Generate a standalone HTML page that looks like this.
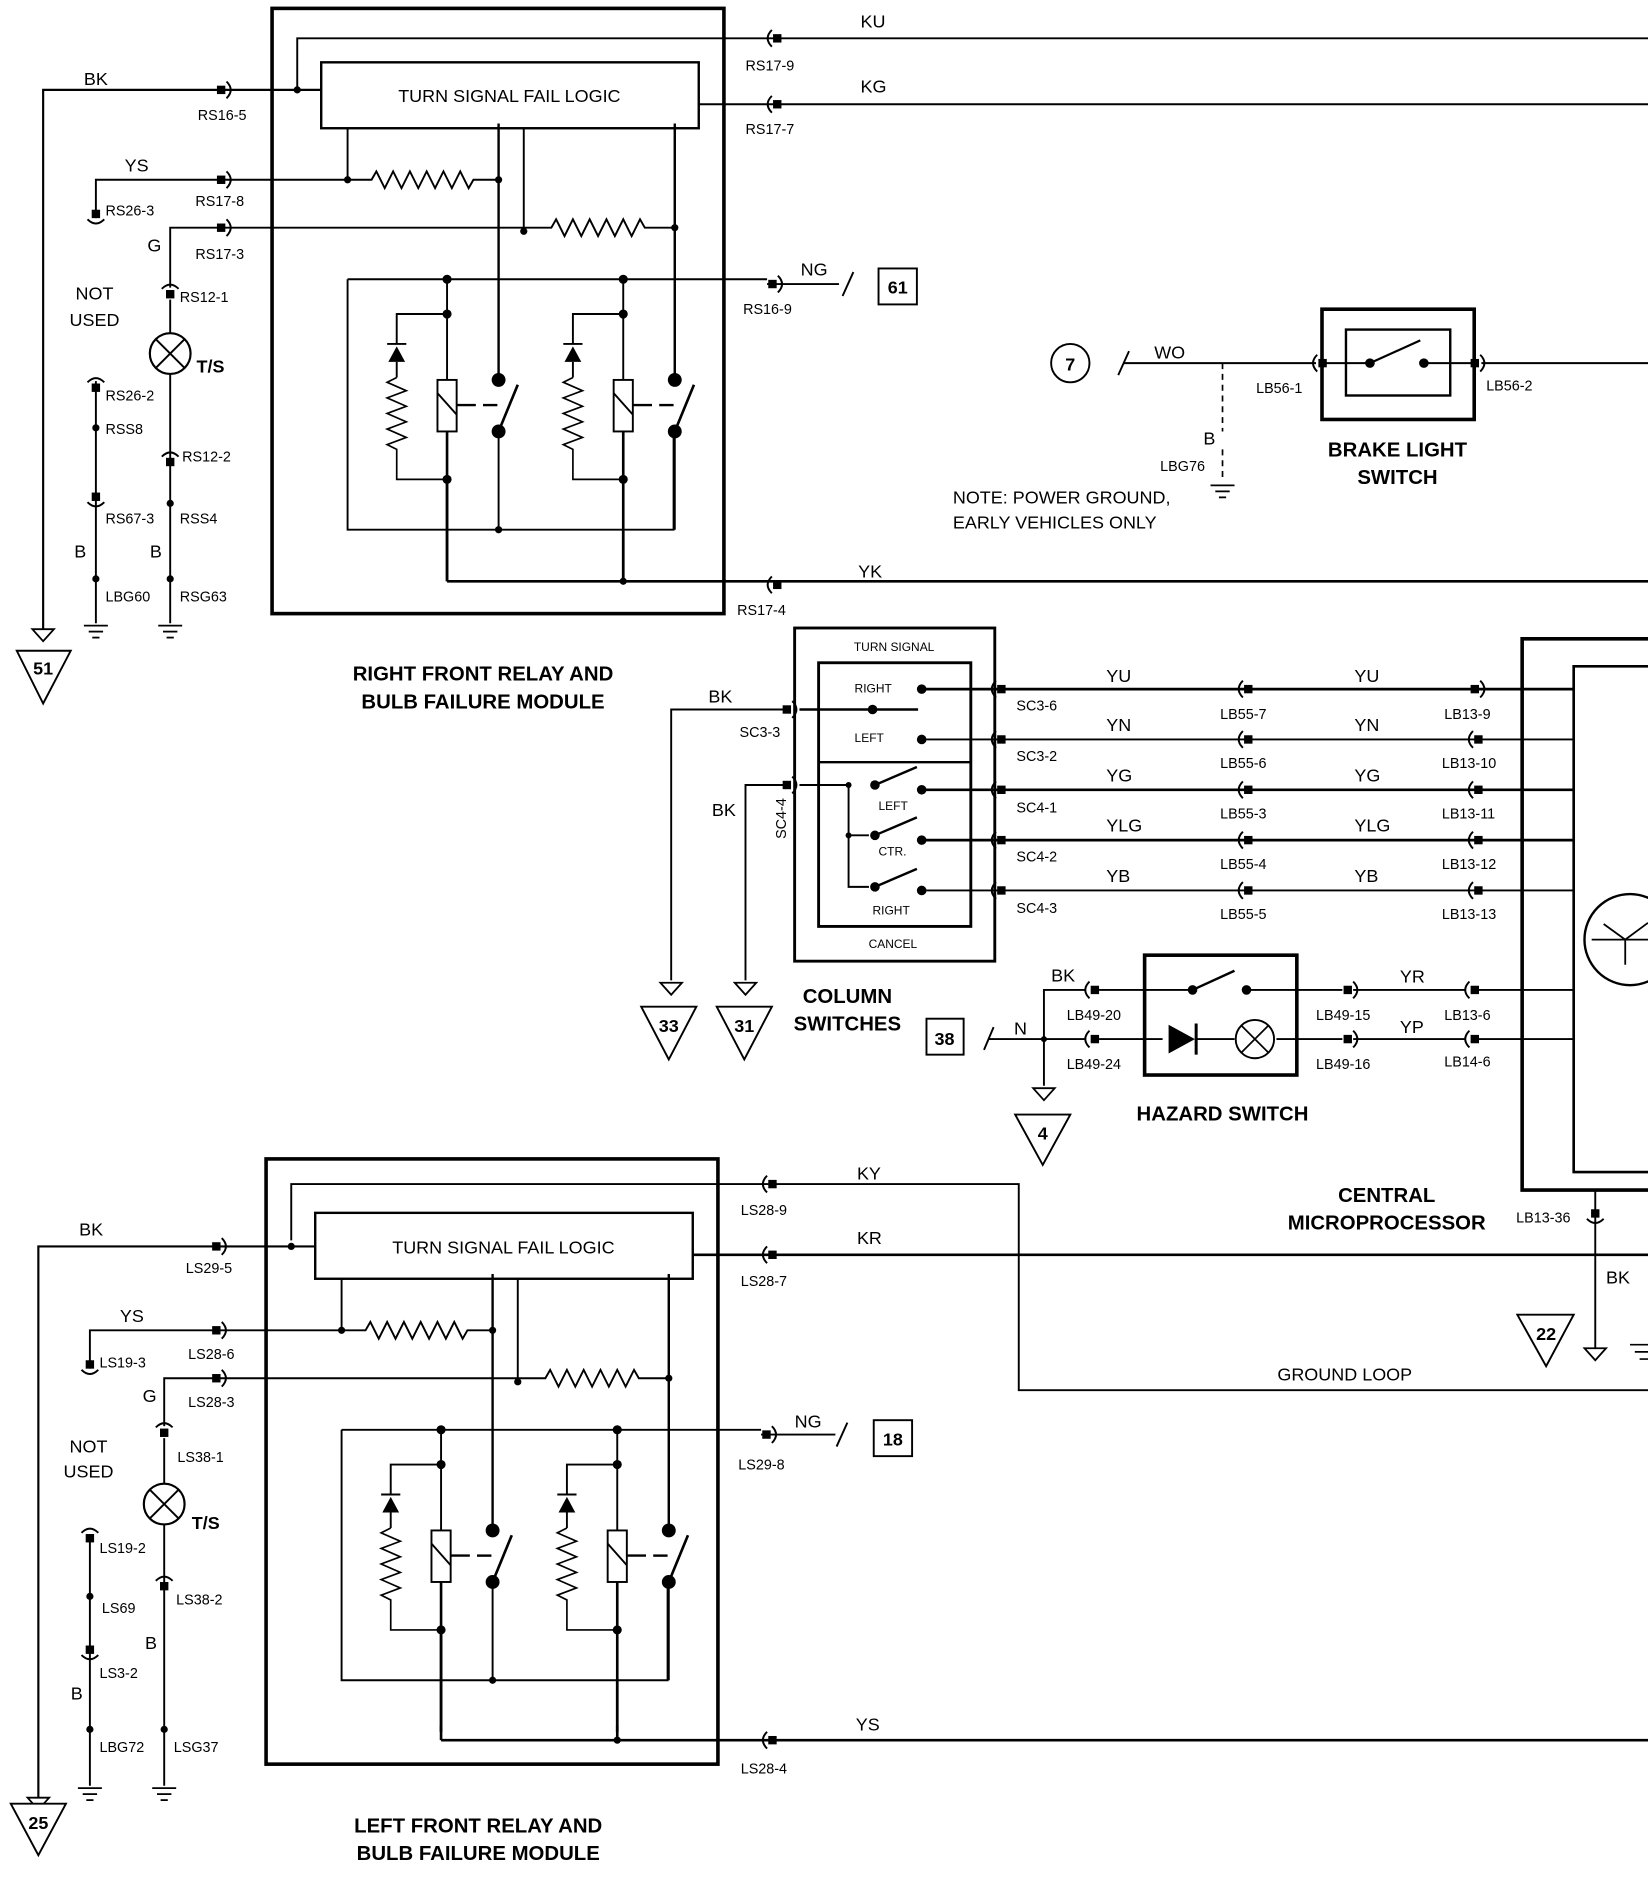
<!DOCTYPE html>
<html><head><meta charset="utf-8"><style>
html,body{margin:0;padding:0;background:#fff;}
svg{display:block;}
text{font-family:"Liberation Sans",Arial,sans-serif;fill:#000;}
.s{font-size:12px;}
.m{font-size:15px;}
.b{font-size:17px;font-weight:bold;}
</style></head><body>
<svg width="1648" height="1878" viewBox="0 0 1375 1567" preserveAspectRatio="none" xmlns="http://www.w3.org/2000/svg">
<defs>
<g id="cr"><rect x="-9" y="-3.5" width="7" height="7" fill="#000"/><path d="M-1,-7 Q6,0 -1,7" fill="none" stroke="#000" stroke-width="1.6"/></g>
<g id="cl"><rect x="2" y="-3.5" width="7" height="7" fill="#000"/><path d="M1,-7 Q-6,0 1,7" fill="none" stroke="#000" stroke-width="1.6"/></g>
<g id="gnd" stroke="#000" stroke-width="1.5"><line x1="-10" y1="0" x2="10" y2="0"/><line x1="-6" y1="5" x2="6" y2="5"/><line x1="-3" y1="10" x2="3" y2="10"/></g>
<g id="arr"><path d="M-9,0 L9,0 L0,10 Z" fill="#fff" stroke="#000" stroke-width="1.5"/></g>
<g id="lamp"><circle r="17" fill="#fff" stroke="#000" stroke-width="1.8"/><line x1="-12" y1="-12" x2="12" y2="12" stroke="#000" stroke-width="1.6"/><line x1="12" y1="-12" x2="-12" y2="12" stroke="#000" stroke-width="1.6"/></g>
<g id="relay" fill="none" stroke="#000" stroke-width="1.6">
 <line x1="0" y1="0" x2="0" y2="84"/>
 <line x1="0" y1="127" x2="0" y2="252" stroke-width="2.2"/>
 <path d="M0,29 H-42 V54"/>
 <path d="M-50,54 L-34,54" /><path d="M-49,69 L-35,69 L-42,56 Z" fill="#000" stroke="none"/>
 <line x1="-42" y1="69" x2="-42" y2="82"/>
 <path d="M-42,82 L-50,86 L-34,93 L-50,99 L-34,106 L-50,112 L-34,119 L-50,125 L-34,132 L-50,138 L-42,142 V167 H0" stroke-width="1.4"/>
 <rect x="-8" y="84" width="16" height="43" fill="#fff"/>
 <line x1="-8" y1="95" x2="8" y2="113"/>
 <line x1="8" y1="105" x2="24" y2="105" stroke-width="2"/><line x1="30" y1="105" x2="42" y2="105" stroke-width="2"/>
 <circle cx="43" cy="84" r="5" fill="#000"/><circle cx="43" cy="127" r="5" fill="#000"/>
 <line x1="43" y1="127" x2="59" y2="88" stroke-width="2.2"/>
 <line x1="43" y1="-130" x2="43" y2="84" stroke-width="2"/>
 <line x1="43" y1="127" x2="43" y2="209"/>
 <circle cx="0" cy="0" r="3" fill="#000"/><circle cx="0" cy="29" r="3" fill="#000"/><circle cx="0" cy="167" r="3" fill="#000"/>
</g>
<g id="mod">
 <rect x="227" y="7" width="377" height="505" fill="none" stroke="#000" stroke-width="3"/>
 <rect x="268" y="52" width="315" height="55" fill="none" stroke="#000" stroke-width="2"/>
 <g fill="none" stroke="#000" stroke-width="1.6">
  <polyline points="290,107 290,150"/>
  <line x1="437" y1="107" x2="437" y2="193"/>
  <line x1="563" y1="107" x2="563" y2="317"/>
  <path d="M185,150 H310 L314,143 L321,157 L328,143 L335,157 L342,143 L349,157 L356,143 L363,157 L370,143 L377,157 L384,143 L391,157 L395,150 H416"/>
  <path d="M185,190 H460 L464,183 L471,197 L478,183 L485,197 L492,183 L499,197 L506,183 L513,197 L520,183 L527,197 L534,183 L538,190 H563"/>
  <path d="M290,233 H640"/>
  <path d="M290,233 V442 H562 V360"/>
  <line x1="373" y1="400" x2="373" y2="485" stroke-width="2.2"/>
  <line x1="520" y1="442" x2="520" y2="485" stroke-width="2.2"/>
 </g>
 <circle cx="290" cy="150" r="3"/><circle cx="416" cy="150" r="3"/><circle cx="437" cy="193" r="3"/><circle cx="563" cy="190" r="3"/>
 <circle cx="416" cy="442" r="3"/>
 <use href="#relay" transform="translate(373,233)"/>
 <use href="#relay" transform="translate(520,233)"/>
</g>
</defs>
<rect width="1375" height="1567" fill="#fff"/>

<!-- ===== TOP MODULE ===== -->
<use href="#mod"/>
<circle cx="520" cy="485" r="3"/>
<g fill="none" stroke="#000" stroke-width="1.6">
 <path d="M248,75 V32 H1375"/>
 <path d="M36,525 V75 H268" stroke-width="1.8"/>
 <line x1="583" y1="87" x2="1375" y2="87" stroke-width="1.6"/>
 <path d="M80,182 V150 H185"/>
 <path d="M142,240 V190 H185"/>
 <line x1="142" y1="250" x2="142" y2="520"/>
 <line x1="80" y1="318" x2="80" y2="520"/>
 <line x1="373" y1="485" x2="1375" y2="485" stroke-width="2.2"/>
 <line x1="640" y1="237" x2="700" y2="237"/>
 <line x1="703" y1="247" x2="712" y2="227"/>
</g>
<circle cx="248" cy="75" r="3"/><circle cx="80" cy="357" r="3"/><circle cx="80" cy="483" r="3"/><circle cx="142" cy="420" r="3"/><circle cx="142" cy="483" r="3"/>
<use href="#cr" transform="translate(190,75)"/>
<use href="#cr" transform="translate(190,150)"/>
<use href="#cr" transform="translate(190,190)"/>
<use href="#cl" transform="translate(643,32)"/>
<use href="#cl" transform="translate(643,87)"/>
<use href="#cr" transform="translate(650,237)"/>
<use href="#cl" transform="translate(643,488)"/>
<use href="#cr" transform="translate(80,184) rotate(90)"/>
<use href="#cr" transform="translate(142,240) rotate(-90)"/>
<use href="#cr" transform="translate(80,318) rotate(-90)"/>
<use href="#cr" transform="translate(80,420) rotate(90)"/>
<use href="#cr" transform="translate(142,380) rotate(-90)"/>
<use href="#lamp" transform="translate(142,295)"/>
<use href="#gnd" transform="translate(80,522)"/><use href="#gnd" transform="translate(142,522)"/>
<use href="#arr" transform="translate(36,525)"/>
<path d="M14,543 L59,543 L36,587 Z" fill="#fff" stroke="#000" stroke-width="1.6"/><text x="36" y="563" class="m" text-anchor="middle" font-weight="bold">51</text>
<rect x="733" y="224" width="32" height="30" fill="none" stroke="#000" stroke-width="1.6"/><text x="749" y="245" class="m" text-anchor="middle" font-weight="bold">61</text>
<text x="425" y="85" class="m" text-anchor="middle">TURN SIGNAL FAIL LOGIC</text>
<text x="70" y="71" class="m">BK</text><text x="165" y="100" class="s">RS16-5</text>
<text x="104" y="143" class="m">YS</text><text x="163" y="172" class="s">RS17-8</text>
<text x="88" y="180" class="s">RS26-3</text>
<text x="123" y="210" class="m">G</text><text x="163" y="216" class="s">RS17-3</text>
<text x="150" y="252" class="s">RS12-1</text>
<text x="63" y="250" class="m">NOT</text><text x="58" y="272" class="m">USED</text>
<text x="164" y="311" class="m" font-weight="bold">T/S</text>
<text x="88" y="334" class="s">RS26-2</text><text x="88" y="362" class="s">RSS8</text>
<text x="152" y="385" class="s">RS12-2</text>
<text x="88" y="437" class="s">RS67-3</text><text x="150" y="437" class="s">RSS4</text>
<text x="62" y="465" class="m">B</text><text x="125" y="465" class="m">B</text>
<text x="88" y="502" class="s">LBG60</text><text x="150" y="502" class="s">RSG63</text>
<text x="622" y="59" class="s">RS17-9</text><text x="718" y="23" class="m">KU</text>
<text x="622" y="112" class="s">RS17-7</text><text x="718" y="77" class="m">KG</text>
<text x="620" y="262" class="s">RS16-9</text><text x="668" y="230" class="m">NG</text>
<text x="615" y="513" class="s">RS17-4</text><text x="716" y="482" class="m">YK</text>
<text x="403" y="568" class="b" text-anchor="middle">RIGHT FRONT RELAY AND</text>
<text x="403" y="591" class="b" text-anchor="middle">BULB FAILURE MODULE</text>

<!-- ===== BRAKE LIGHT SWITCH ===== -->
<circle cx="893" cy="303" r="16" fill="none" stroke="#000" stroke-width="1.6"/><text x="893" y="309" class="m" text-anchor="middle" font-weight="bold">7</text>
<line x1="933" y1="313" x2="942" y2="293" stroke="#000" stroke-width="1.6"/>
<line x1="937" y1="303" x2="1098" y2="303" stroke="#000" stroke-width="1.6"/>
<line x1="1020" y1="303" x2="1020" y2="360" stroke="#000" stroke-width="1.4" stroke-dasharray="5 4"/>
<line x1="1020" y1="375" x2="1020" y2="398" stroke="#000" stroke-width="1.4" stroke-dasharray="5 4"/>
<use href="#gnd" transform="translate(1020,405)"/>
<use href="#cl" transform="translate(1098,303)"/>
<rect x="1103" y="258" width="127" height="92" fill="none" stroke="#000" stroke-width="3"/>
<rect x="1123" y="275" width="87" height="55" fill="none" stroke="#000" stroke-width="2"/>
<line x1="1105" y1="303" x2="1143" y2="303" stroke="#000" stroke-width="1.6"/>
<line x1="1188" y1="303" x2="1228" y2="303" stroke="#000" stroke-width="1.6"/>
<circle cx="1143" cy="303" r="4"/><circle cx="1188" cy="303" r="4"/>
<line x1="1143" y1="303" x2="1185" y2="284" stroke="#000" stroke-width="1.8"/>
<use href="#cr" transform="translate(1236,303)"/>
<line x1="1236" y1="303" x2="1375" y2="303" stroke="#000" stroke-width="1.6"/>
<text x="963" y="299" class="m">WO</text><text x="1048" y="328" class="s">LB56-1</text><text x="1240" y="326" class="s">LB56-2</text>
<text x="1004" y="371" class="m">B</text><text x="968" y="393" class="s">LBG76</text>
<text x="795" y="420" class="m">NOTE: POWER GROUND,</text><text x="795" y="441" class="m">EARLY VEHICLES ONLY</text>
<text x="1166" y="381" class="b" text-anchor="middle">BRAKE LIGHT</text><text x="1166" y="404" class="b" text-anchor="middle">SWITCH</text>

<!-- ===== COLUMN SWITCHES ===== -->
<rect x="663" y="524" width="167" height="278" fill="none" stroke="#000" stroke-width="2.4"/>
<rect x="683" y="553" width="127" height="220" fill="none" stroke="#000" stroke-width="2.4"/>
<line x1="683" y1="636" x2="810" y2="636" stroke="#000" stroke-width="2"/>
<text x="746" y="543" font-size="10" text-anchor="middle">TURN SIGNAL</text>
<text x="713" y="578" font-size="10">RIGHT</text><text x="713" y="619" font-size="10">LEFT</text>
<text x="733" y="676" font-size="10">LEFT</text><text x="733" y="714" font-size="10">CTR.</text>
<text x="728" y="763" font-size="10">RIGHT</text><text x="745" y="791" font-size="10" text-anchor="middle">CANCEL</text>
<g stroke="#000" stroke-width="1.6" fill="none">
 <path d="M560,818 V592 H655"/>
 <path d="M622,818 V655 H655"/>
 <line x1="667" y1="592" x2="766" y2="592" stroke-width="2"/>
 <line x1="667" y1="655" x2="708" y2="655"/>
 <path d="M708,655 V740 H725"/><line x1="708" y1="697" x2="725" y2="697"/>
 <line x1="730" y1="655" x2="765" y2="640" stroke-width="2"/>
 <line x1="730" y1="697" x2="765" y2="682" stroke-width="2"/>
 <line x1="730" y1="740" x2="765" y2="725" stroke-width="2"/>
</g>
<use href="#cr" transform="translate(662,592)"/><use href="#cr" transform="translate(662,655)"/>
<circle cx="708" cy="655" r="2.5"/><circle cx="708" cy="697" r="2.5"/>
<circle cx="728" cy="592" r="4"/><circle cx="730" cy="655" r="4"/><circle cx="730" cy="697" r="4"/><circle cx="730" cy="740" r="4"/>
<circle cx="769" cy="575" r="4"/><circle cx="769" cy="617" r="4"/><circle cx="769" cy="659" r="4"/><circle cx="769" cy="701" r="4"/><circle cx="769" cy="743" r="4"/>
<g stroke="#000" stroke-width="1.6">
 <line x1="769" y1="575" x2="1313" y2="575" stroke-width="2.2"/>
 <line x1="769" y1="617" x2="1313" y2="617"/>
 <line x1="769" y1="659" x2="1313" y2="659" stroke-width="2.2"/>
 <line x1="769" y1="701" x2="1313" y2="701" stroke-width="2.2"/>
 <line x1="769" y1="743" x2="1313" y2="743"/>
</g>
<g>
 <use href="#cl" transform="translate(830,575)"/><use href="#cl" transform="translate(830,617)"/><use href="#cl" transform="translate(830,659)"/><use href="#cl" transform="translate(830,701)"/><use href="#cl" transform="translate(830,743)"/>
 <use href="#cl" transform="translate(1036,575)"/><use href="#cl" transform="translate(1036,617)"/><use href="#cl" transform="translate(1036,659)"/><use href="#cl" transform="translate(1036,701)"/><use href="#cl" transform="translate(1036,743)"/>
 <use href="#cr" transform="translate(1236,575)"/><use href="#cl" transform="translate(1228,617)"/><use href="#cl" transform="translate(1228,659)"/><use href="#cl" transform="translate(1228,701)"/><use href="#cl" transform="translate(1228,743)"/>
</g>
<text x="591" y="586" class="m">BK</text><text x="617" y="615" class="s">SC3-3</text>
<text x="594" y="681" class="m">BK</text>
<text x="656" y="700" class="s" transform="rotate(-90 656 700)">SC4-4</text>
<text x="848" y="593" class="s">SC3-6</text><text x="848" y="635" class="s">SC3-2</text><text x="848" y="678" class="s">SC4-1</text><text x="848" y="719" class="s">SC4-2</text><text x="848" y="762" class="s">SC4-3</text>
<text x="923" y="569" class="m">YU</text><text x="923" y="610" class="m">YN</text><text x="923" y="652" class="m">YG</text><text x="923" y="694" class="m">YLG</text><text x="923" y="736" class="m">YB</text>
<text x="1018" y="600" class="s">LB55-7</text><text x="1018" y="641" class="s">LB55-6</text><text x="1018" y="683" class="s">LB55-3</text><text x="1018" y="725" class="s">LB55-4</text><text x="1018" y="767" class="s">LB55-5</text>
<text x="1130" y="569" class="m">YU</text><text x="1130" y="610" class="m">YN</text><text x="1130" y="652" class="m">YG</text><text x="1130" y="694" class="m">YLG</text><text x="1130" y="736" class="m">YB</text>
<text x="1205" y="600" class="s">LB13-9</text><text x="1203" y="641" class="s">LB13-10</text><text x="1203" y="683" class="s">LB13-11</text><text x="1203" y="725" class="s">LB13-12</text><text x="1203" y="767" class="s">LB13-13</text>
<use href="#arr" transform="translate(560,820)"/><use href="#arr" transform="translate(622,820)"/>
<path d="M535,840 L581,840 L558,884 Z" fill="#fff" stroke="#000" stroke-width="1.6"/><text x="558" y="861" class="m" text-anchor="middle" font-weight="bold">33</text>
<path d="M598,840 L644,840 L621,884 Z" fill="#fff" stroke="#000" stroke-width="1.6"/><text x="621" y="861" class="m" text-anchor="middle" font-weight="bold">31</text>
<text x="707" y="837" class="b" text-anchor="middle">COLUMN</text><text x="707" y="860" class="b" text-anchor="middle">SWITCHES</text>

<!-- ===== HAZARD ===== -->
<rect x="773" y="850" width="31" height="30" fill="none" stroke="#000" stroke-width="1.6"/><text x="788" y="872" class="m" text-anchor="middle" font-weight="bold">38</text>
<line x1="821" y1="876" x2="829" y2="857" stroke="#000" stroke-width="1.6"/>
<g stroke="#000" stroke-width="1.6" fill="none">
 <path d="M871,906 V826 H905"/>
 <line x1="825" y1="867" x2="905" y2="867"/>
 <path d="M917,826 H995"/><path d="M1040,826 H1120"/>
 <path d="M917,867 H970"/><path d="M1065,867 H1120"/>
 <line x1="995" y1="826" x2="1030" y2="810" stroke-width="2"/>
 <line x1="1129" y1="826" x2="1222" y2="826"/><line x1="1234" y1="826" x2="1313" y2="826"/>
 <line x1="1129" y1="867" x2="1222" y2="867"/><line x1="1234" y1="867" x2="1313" y2="867"/>
</g>
<circle cx="871" cy="867" r="2.5"/>
<rect x="955" y="797" width="127" height="100" fill="none" stroke="#000" stroke-width="3"/>
<circle cx="995" cy="826" r="4"/><circle cx="1040" cy="826" r="4"/>
<path d="M975,855 L975,879 L997,867 Z"/><line x1="998" y1="854" x2="998" y2="880" stroke="#000" stroke-width="2.5"/>
<line x1="997" y1="867" x2="1030" y2="867" stroke="#000" stroke-width="1.6"/>
<circle cx="1047" cy="867" r="16" fill="#fff" stroke="#000" stroke-width="1.6"/>
<line x1="1036" y1="856" x2="1058" y2="878" stroke="#000" stroke-width="1.4"/><line x1="1058" y1="856" x2="1036" y2="878" stroke="#000" stroke-width="1.4"/>
<use href="#cl" transform="translate(908,826)"/><use href="#cl" transform="translate(908,867)"/>
<use href="#cr" transform="translate(1130,826)"/><use href="#cr" transform="translate(1130,867)"/>
<use href="#cl" transform="translate(1225,826)"/><use href="#cl" transform="translate(1225,867)"/>
<text x="877" y="819" class="m">BK</text><text x="846" y="863" class="m">N</text>
<text x="890" y="851" class="s">LB49-20</text><text x="890" y="892" class="s">LB49-24</text>
<text x="1098" y="851" class="s">LB49-15</text><text x="1098" y="892" class="s">LB49-16</text>
<text x="1168" y="820" class="m">YR</text><text x="1168" y="862" class="m">YP</text>
<text x="1205" y="851" class="s">LB13-6</text><text x="1205" y="890" class="s">LB14-6</text>
<use href="#arr" transform="translate(871,908)"/>
<path d="M847,930 L893,930 L870,972 Z" fill="#fff" stroke="#000" stroke-width="1.6"/><text x="870" y="951" class="m" text-anchor="middle" font-weight="bold">4</text>
<text x="1020" y="935" class="b" text-anchor="middle">HAZARD SWITCH</text>

<!-- ===== MICROPROCESSOR ===== -->
<path d="M1375,533 H1270 V993 H1375" fill="none" stroke="#000" stroke-width="3"/>
<path d="M1375,556 H1313 V978 H1375" fill="none" stroke="#000" stroke-width="2.2"/>
<circle cx="1360" cy="784" r="38" fill="none" stroke="#000" stroke-width="2"/>
<path d="M1328,784 H1375 M1356,784 V805 M1356,784 L1338,771 M1356,784 L1375,770" fill="none" stroke="#000" stroke-width="1.5"/>
<line x1="1331" y1="993" x2="1331" y2="1125" stroke="#000" stroke-width="1.6"/>
<use href="#cr" transform="translate(1331,1018) rotate(90)"/>
<use href="#arr" transform="translate(1331,1125)"/>
<path d="M1360,1122 H1375 M1364,1128 H1375 M1368,1134 H1375" stroke="#000" stroke-width="1.4"/>
<text x="1265" y="1020" class="s">LB13-36</text><text x="1340" y="1071" class="m">BK</text>
<text x="1157" y="1003" class="b" text-anchor="middle">CENTRAL</text><text x="1157" y="1026" class="b" text-anchor="middle">MICROPROCESSOR</text>
<path d="M1266,1097 L1313,1097 L1290,1140 Z" fill="#fff" stroke="#000" stroke-width="1.6"/><text x="1290" y="1118" class="m" text-anchor="middle" font-weight="bold">22</text>

<!-- ===== BOTTOM MODULE ===== -->
<use href="#mod" transform="translate(-5,960)"/>
<g fill="none" stroke="#000" stroke-width="1.6">
 <path d="M243,1035 V988 H850 V1160 H1375"/>
 <path d="M32,1500 V1040 H263" stroke-width="1.8"/>
 <line x1="578" y1="1047" x2="1375" y2="1047" stroke-width="2.2"/>
 <path d="M75,1142 V1110 H180"/>
 <path d="M137,1190 V1150 H180"/>
 <line x1="137" y1="1200" x2="137" y2="1490"/>
 <line x1="75" y1="1280" x2="75" y2="1490"/>
 <line x1="368" y1="1452" x2="1375" y2="1452" stroke-width="2.2"/>
 <line x1="368" y1="1440" x2="368" y2="1452" stroke-width="2.2"/>
 <line x1="515" y1="1440" x2="515" y2="1452" stroke-width="2.2"/>
 <line x1="635" y1="1197" x2="697" y2="1197"/>
 <line x1="698" y1="1207" x2="707" y2="1187"/>
</g>
<circle cx="515" cy="1452" r="3"/>
<circle cx="243" cy="1040" r="3"/><circle cx="75" cy="1332" r="3"/><circle cx="75" cy="1443" r="3"/><circle cx="137" cy="1443" r="3"/>
<use href="#cr" transform="translate(186,1040)"/>
<use href="#cr" transform="translate(186,1110)"/>
<use href="#cr" transform="translate(186,1150)"/>
<use href="#cl" transform="translate(639,988)"/>
<use href="#cl" transform="translate(639,1047)"/>
<use href="#cr" transform="translate(645,1197)"/>
<use href="#cl" transform="translate(639,1452)"/>
<use href="#cr" transform="translate(75,1144) rotate(90)"/>
<use href="#cr" transform="translate(137,1190) rotate(-90)"/>
<use href="#cr" transform="translate(75,1278) rotate(-90)"/>
<use href="#cr" transform="translate(75,1382) rotate(90)"/>
<use href="#cr" transform="translate(137,1318) rotate(-90)"/>
<use href="#lamp" transform="translate(137,1255)"/>
<use href="#gnd" transform="translate(75,1492)"/><use href="#gnd" transform="translate(137,1492)"/>
<use href="#arr" transform="translate(32,1500)"/>
<path d="M9,1505 L55,1505 L32,1548 Z" fill="#fff" stroke="#000" stroke-width="1.6"/><text x="32" y="1526" class="m" text-anchor="middle" font-weight="bold">25</text>
<rect x="729" y="1185" width="32" height="30" fill="none" stroke="#000" stroke-width="1.6"/><text x="745" y="1206" class="m" text-anchor="middle" font-weight="bold">18</text>
<text x="420" y="1046" class="m" text-anchor="middle">TURN SIGNAL FAIL LOGIC</text>
<text x="66" y="1031" class="m">BK</text><text x="155" y="1062" class="s">LS29-5</text>
<text x="100" y="1103" class="m">YS</text><text x="157" y="1134" class="s">LS28-6</text>
<text x="83" y="1141" class="s">LS19-3</text>
<text x="119" y="1170" class="m">G</text><text x="157" y="1174" class="s">LS28-3</text>
<text x="148" y="1220" class="s">LS38-1</text>
<text x="58" y="1212" class="m">NOT</text><text x="53" y="1233" class="m">USED</text>
<text x="160" y="1276" class="m" font-weight="bold">T/S</text>
<text x="83" y="1296" class="s">LS19-2</text><text x="85" y="1346" class="s">LS69</text>
<text x="147" y="1339" class="s">LS38-2</text>
<text x="83" y="1400" class="s">LS3-2</text>
<text x="59" y="1418" class="m">B</text><text x="121" y="1376" class="m">B</text>
<text x="83" y="1462" class="s">LBG72</text><text x="145" y="1462" class="s">LSG37</text>
<text x="618" y="1014" class="s">LS28-9</text><text x="715" y="984" class="m">KY</text>
<text x="618" y="1073" class="s">LS28-7</text><text x="715" y="1038" class="m">KR</text>
<text x="616" y="1226" class="s">LS29-8</text><text x="663" y="1191" class="m">NG</text>
<text x="618" y="1480" class="s">LS28-4</text><text x="714" y="1444" class="m">YS</text>
<text x="1122" y="1152" class="m" text-anchor="middle">GROUND LOOP</text>
<text x="399" y="1529" class="b" text-anchor="middle">LEFT FRONT RELAY AND</text>
<text x="399" y="1552" class="b" text-anchor="middle">BULB FAILURE MODULE</text>
</svg>
</body></html>
